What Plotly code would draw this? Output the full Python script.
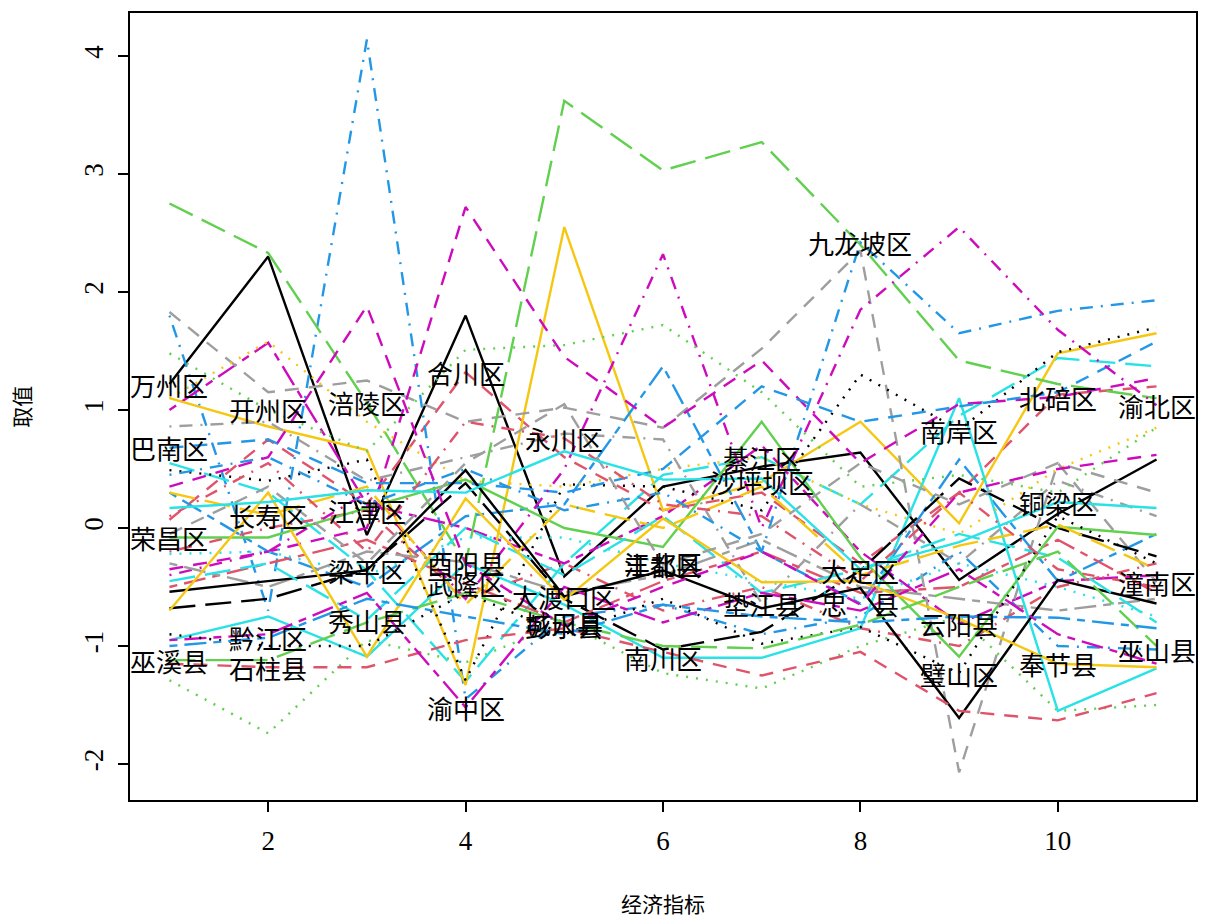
import plotly.graph_objects as go

# 11 economic indicators (standardised scores) for the 38 districts/counties of Chongqing
indicators = list(range(1, 12))

districts = [
    "万州区", "合川区", "城口县", "巫山县", "梁平区", "云阳县", "沙坪坝区", "潼南区",
    "南岸区", "江津区", "涪陵区", "忠　县", "南川区", "北碚区", "綦江区", "垫江县",
    "大足区", "武隆区", "荣昌区", "巴南区", "江北区", "渝北区", "长寿区", "酉阳县",
    "大渡口区", "石柱县", "开州区", "九龙坡区", "秀山县", "渝中区", "奉节县", "丰都县",
    "璧山区", "永川区", "巫溪县", "黔江区", "铜梁区", "彭水县",
]

# indicator index at which each district's name is written on its own line
label_at = [1, 4, 5, 11, 3, 9, 7, 11, 9, 3, 3, 8, 6, 10, 7, 7,
            8, 4, 1, 1, 6, 11, 2, 4, 5, 2, 2, 8, 3, 4, 10, 6,
            9, 5, 1, 2, 10, 5]

# one row per district, one value per indicator
values = [
    [1.22, 2.30, -0.06, 1.80, -0.41, 0.35, 0.52, 0.64, -0.44, 0.12, 0.58],
    [0.07, 0.75, 0.20, 1.32, 0.60, 0.15, 0.30, -0.30, 0.30, 1.13, 1.20],
    [-1.29, -1.74, -0.95, -1.14, -0.80, -1.23, -1.36, -1.00, -0.75, -1.55, -1.50],
    [1.80, -0.70, 4.14, -1.45, -0.75, -0.65, -0.90, -0.75, -0.20, -1.00, -1.03],
    [0.55, 0.30, -0.36, -1.30, -0.30, 0.45, 0.60, 0.20, 0.95, 1.44, 1.37],
    [1.00, 1.57, 0.20, 0.00, -0.30, 0.10, 0.70, -0.20, -0.81, -0.45, -0.40],
    [1.10, 0.86, 0.66, -1.33, 2.55, 0.15, 0.39, 0.90, 0.04, 1.48, 1.65],
    [1.83, 1.15, 1.25, 0.90, 1.02, 0.85, 1.52, 2.35, -2.07, 0.55, -0.46],
    [0.49, 0.40, 0.58, -1.29, 0.37, 0.35, 0.15, 1.30, 0.83, 1.49, 1.70],
    [-0.20, 0.00, 0.15, -0.60, -0.30, -0.70, -0.50, -0.85, -1.00, -0.50, -0.30],
    [2.75, 2.33, 1.06, -0.30, 3.62, 3.03, 3.27, 2.40, 1.42, 1.22, 1.10],
    [0.30, -0.20, -0.50, 0.10, 0.20, 1.37, -0.20, -0.64, 0.58, -0.45, -0.05],
    [-0.95, -0.75, -1.09, -0.30, -0.65, -1.10, -1.10, -0.85, 1.10, -1.55, -1.19],
    [-0.35, -0.20, 0.00, 2.72, 1.45, 0.85, 1.42, 0.55, 1.05, 1.11, 1.27],
    [1.10, 1.58, 0.90, 0.40, 0.35, 0.50, 0.60, 0.20, -0.05, 0.50, 0.85],
    [0.86, 0.90, 0.40, 0.60, 0.80, 0.75, -0.64, 0.20, -0.30, 0.40, 0.10],
    [-0.68, -0.60, -0.35, 0.38, -0.60, -1.03, -0.88, -0.36, 0.42, 0.00, -0.24],
    [-0.50, -0.30, -0.10, -0.47, -0.80, -0.45, -0.20, -0.55, -0.50, -0.10, -0.55],
    [-0.08, -0.08, 0.17, 0.41, 0.00, -0.16, 0.90, -0.25, -1.09, 0.01, -0.06],
    [0.68, 0.75, 0.38, 0.38, 0.30, 0.50, 1.20, 0.90, 1.03, 1.15, 1.58],
    [-0.22, -0.20, -0.40, -0.08, -0.08, -0.30, -0.45, -0.60, -0.30, -0.50, -0.75],
    [-0.40, -0.20, 0.30, -0.60, 0.50, 2.32, 0.00, 1.85, 2.55, 1.68, 1.04],
    [0.30, 0.11, 0.35, -0.65, 0.20, 0.00, 0.35, -0.40, -0.15, 0.03, -0.35],
    [-0.30, -0.50, -0.20, -0.29, -0.55, -0.40, -0.10, -0.50, -0.60, -0.70, -0.60],
    [-0.54, -0.45, -0.36, 0.49, -0.58, -0.36, -0.68, -0.51, -1.61, -0.44, -0.64],
    [-1.15, -1.18, -1.18, -0.95, -0.85, -1.05, -1.25, -1.05, -1.55, -1.63, -1.40],
    [1.48, 1.00, 0.65, 1.51, 1.55, 1.72, 1.15, 0.35, 0.45, 0.30, 0.85],
    [0.45, 0.60, 0.20, 0.50, 0.15, 0.30, -0.20, 2.42, 1.65, 1.84, 1.93],
    [-0.45, -0.30, -0.78, 0.00, -0.40, 0.10, -0.55, -0.35, -0.05, -0.25, -0.80],
    [-0.95, -0.90, -0.55, -1.52, -0.50, -0.80, -0.55, -0.70, -0.35, -0.90, -1.15],
    [-0.70, 0.30, -1.09, 0.25, -0.61, 0.08, -0.46, -0.45, -0.77, -1.15, -1.18],
    [-0.05, 0.35, -0.30, 0.55, 1.05, -0.31, -0.05, 0.55, 0.20, 0.55, 0.30],
    [-0.90, -1.00, -1.00, -0.55, -0.90, -0.60, -0.98, -0.84, -1.23, 0.10, -0.30],
    [0.10, 0.55, -0.20, 0.90, 0.76, 0.20, 0.10, -0.45, 0.30, -0.35, -0.50],
    [-1.12, -1.12, -0.80, -0.55, -0.80, -1.00, -1.02, -0.82, -0.50, -0.20, -1.00],
    [-1.00, -0.93, -0.60, -0.75, -0.90, -0.65, -0.75, -0.80, -0.75, -0.76, -0.85],
    [0.17, 0.22, 0.32, 0.30, 0.65, 0.41, 0.42, -0.35, -0.12, 0.22, 0.17],
    [0.35, 0.60, 1.88, -0.30, -0.83, -0.50, -0.20, -0.65, 0.30, 0.50, 0.62],
]

x_ticks = [2, 4, 6, 8, 10]
y_ticks = [-2, -1, 0, 1, 2, 3, 4]
y_tick_text = ["-2", "-1", "0", "1", "2", "3", "4"]

# colour and line-type cycles of a base-R line matrix plot
palette = ["black", "#DF536B", "#61D04F", "#2297E6", "#28E2E5", "#CD0BBC", "#F5C710", "#9E9E9E"]
dashes = ["solid", "14px,10px", "2px,8px", "2px,8px,13px,8px", "26px,10px", "8px,7px,22px,7px"]

LATIN = "Liberation Serif"
CJK = "Noto Sans CJK SC, Liberation Serif"

fig = go.Figure()
for i, (name, row) in enumerate(zip(districts, values)):
    fig.add_trace(go.Scatter(
        x=indicators, y=row, mode="lines", name=name,
        line=dict(color=palette[i % len(palette)], dash=dashes[i % len(dashes)], width=2.4),
        showlegend=False, hoverinfo="skip",
    ))

for name, pos, row in zip(districts, label_at, values):
    fig.add_annotation(
        x=pos, y=row[pos - 1], text=name, showarrow=False,
        xanchor="center", yanchor="middle",
        font=dict(family=CJK, size=26, color="black"),
    )

# axis titles
fig.add_annotation(x=0.5, y=-0.131, xref="paper", yref="paper", text="经济指标",
                   showarrow=False, xanchor="center", yanchor="middle",
                   font=dict(family=CJK, size=21, color="black"))
fig.add_annotation(x=-0.103, y=0.5, xref="paper", yref="paper", text="取值",
                   showarrow=False, xanchor="center", yanchor="middle", textangle=-90,
                   font=dict(family=CJK, size=21, color="black"))

axis_common = dict(
    showgrid=False, zeroline=False, showline=True, mirror=True,
    linecolor="black", linewidth=2, ticks="outside", ticklen=10,
    tickwidth=2, tickcolor="black",
    tickfont=dict(family=LATIN, size=27, color="black"),
)

fig.update_layout(
    width=1205, height=918,
    margin=dict(l=130, r=7, t=13, b=118),
    plot_bgcolor="white", paper_bgcolor="white",
    xaxis=dict(range=[0.6, 11.4], tickvals=x_ticks, ticklabelstandoff=6, **axis_common),
    yaxis=dict(range=[-2.305, 4.364], tickvals=y_ticks, ticktext=y_tick_text,
               tickangle=-90, ticklabelstandoff=4, **axis_common),
)

fig.write_html("out.html")
